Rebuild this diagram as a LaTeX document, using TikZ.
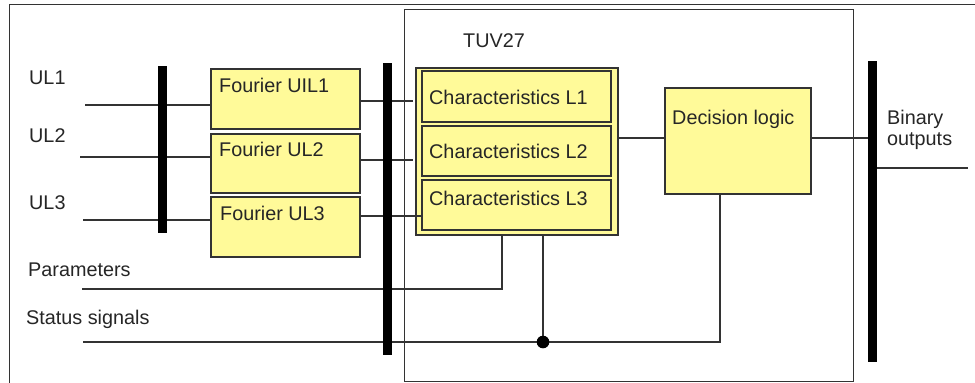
\documentclass[tikz,border=0pt]{standalone}
\usepackage{fontspec}
\setmainfont{Liberation Sans}
\begin{document}
\begin{tikzpicture}[x=1pt,y=-1pt,
  line/.style={draw=black!80,line width=1.1pt},
  ybox/.style={draw=black!80,line width=1.3pt,fill=yellow!40,inner sep=0,rectangle},
  bar/.style={fill=black,draw=none,inner sep=0,minimum width=9pt},
  txt/.style={anchor=base west,inner sep=0,text=black!85,font=\fontsize{19.8}{23}\selectfont}]
\useasboundingbox (0,0) rectangle (975,383);
\fill[white] (0,0) rectangle (975,383);
% frames
\draw[line,line width=1pt] (9,383) -- (9,4) -- (975,4);
\draw[line,line width=1pt] (404,9) rectangle (853,381);
% boxes
\node[ybox,minimum width=149pt,minimum height=60pt] (F1) at (285.5,99) {};
\node[ybox,minimum width=149pt,minimum height=59pt] (F2) at (285.5,163.5) {};
\node[ybox,minimum width=149pt,minimum height=60pt] (F3) at (285.5,227) {};
\node[ybox,minimum width=202pt,minimum height=167pt] (C) at (517,151.5) {};
\node[ybox,minimum width=189pt,minimum height=51pt] (C1) at (516.5,96.5) {};
\node[ybox,minimum width=189pt,minimum height=50pt] (C2) at (516.5,151) {};
\node[ybox,minimum width=189pt,minimum height=50pt] (C3) at (516.5,205) {};
\node[ybox,minimum width=146pt,minimum height=106pt] (D) at (738,141) {};
% coordinates
\coordinate (i1) at (85,105);
\coordinate (i2) at (80,157);
\coordinate (i3) at (83,220);
\coordinate (o1) at (413,101);
\coordinate (o2) at (413,160);
\coordinate (o3) at (421,216);
\coordinate (dl) at (640,138);
\coordinate (bo) at (968,168);
\coordinate (p0) at (82,289);
\coordinate (p1) at (502,289);
\coordinate (s0) at (83,342);
\coordinate (s1) at (720,342);
\coordinate (j) at (543,342);
% connectors
\draw[line] (i1) -- (i1 -| F1.west);
\draw[line] (i2) -- (i2 -| F2.west);
\draw[line] (i3) -- (i3 -| F3.west);
\draw[line] (F1.east |- o1) -- (o1);
\draw[line] (F2.east |- o2) -- (o2);
\draw[line] (F3.east |- o3) -- (o3);
\draw[line] (C.east |- dl) -- (dl -| D.west);
\draw[line] (D.east |- dl) -- (dl -| 872,0);
\draw[line] (872,168) -- (bo);
\draw[line] (p0) -- (p1) -- (p1 |- C.south);
\draw[line] (s0) -- (s1) -- (s1 |- D.south);
\draw[line] (j) -- (j |- C.south);
\fill[black] (j) circle (6.3pt);
% bus bars
\node[bar,minimum height=167pt] (B1) at (162,149.5) {};
\node[bar,minimum height=292pt] (B2) at (387,209) {};
\node[bar,minimum height=301pt] (B3) at (872,211.5) {};
% texts
\node[txt] (tUL1) at (29,84) {UL1};
\node[txt] (tUL2) at (29,142) {UL2};
\node[txt] (tUL3) at (29,209) {UL3};
\node[txt] (tPar) at (28,276) {Parameters};
\node[txt] (tSta) at (26,324) {Status signals};
\node[txt] (tTUV) at (463,47) {TUV27};
\node[txt] (tF1) at (219,92) {Fourier UIL1};
\node[txt] (tF2) at (219,156) {Fourier UL2};
\node[txt] (tF3) at (220,220) {Fourier UL3};
\node[txt] (tC1) at (429,104) {Characteristics L1};
\node[txt] (tC2) at (429,158) {Characteristics L2};
\node[txt] (tC3) at (429,205) {Characteristics L3};
\node[txt] (tD) at (672,124) {Decision logic};
\node[txt] (tB1) at (887,124) {Binary};
\node[txt] (tB2) at (887,145) {outputs};
\end{tikzpicture}
\end{document}
